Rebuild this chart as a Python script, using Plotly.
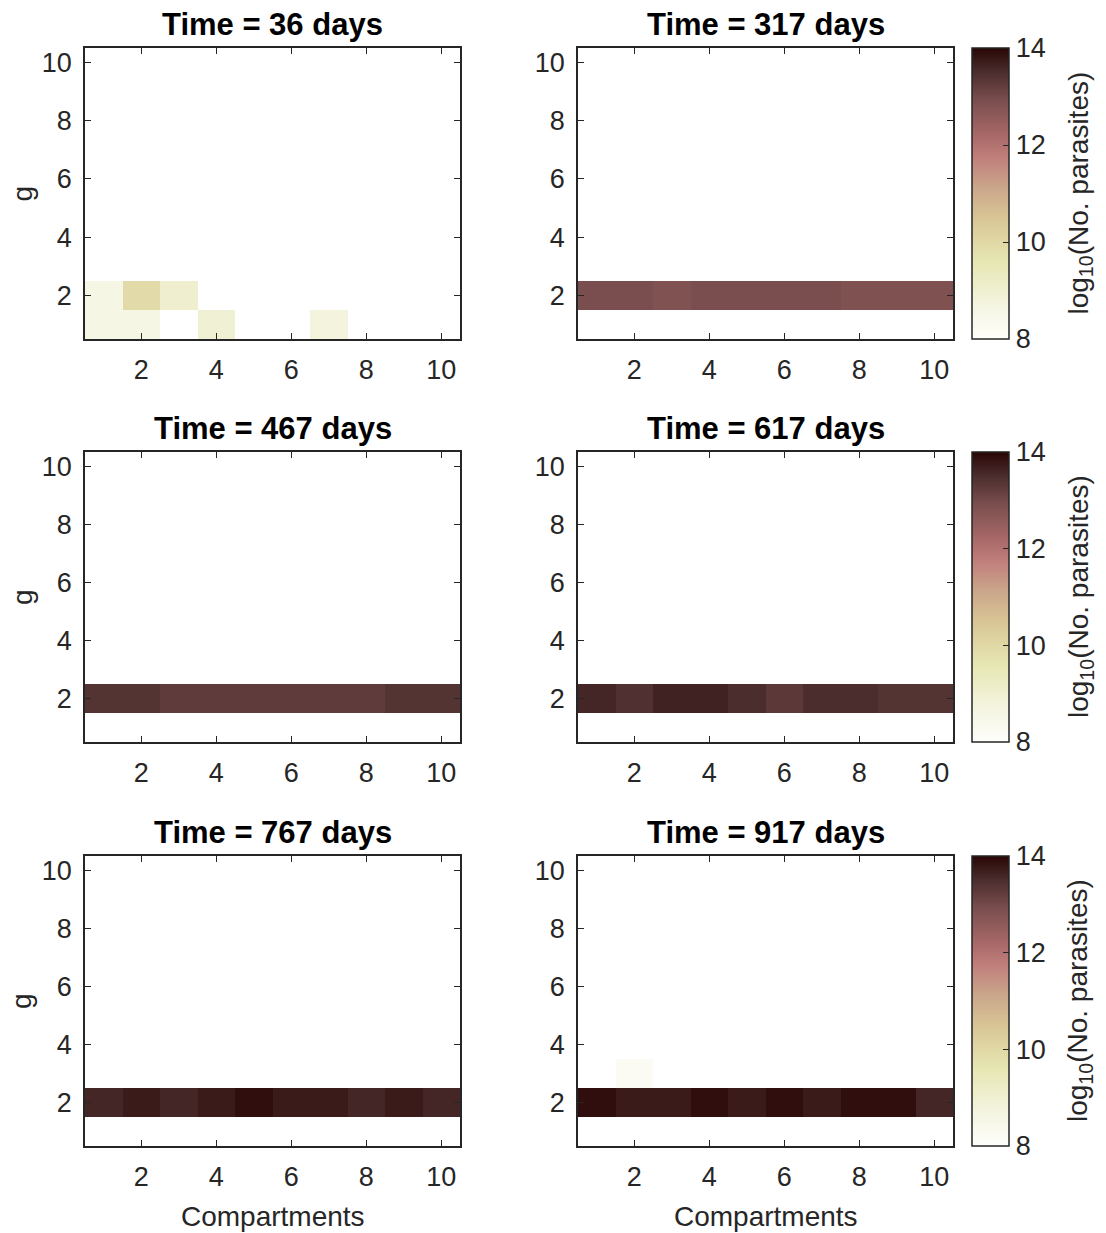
import plotly.graph_objects as go

N = None
# Panel times (days)
times = [36, 317, 467, 617, 767, 917]
compartments = list(range(1, 11))
g_levels = list(range(1, 11))

# log10(No. parasites) per compartment, non-empty g rows only (None = no parasites shown)
t36_g1 = [8.6, 8.6, N, 8.95, N, N, 8.75, N, N, N]
t36_g2 = [8.6, 9.9, 9.05, N, N, N, N, N, N, N]
t317_g2 = [12.92, 12.92, 12.82, 12.92, 12.92, 12.92, 12.92, 12.84, 12.84, 12.84]
t467_g2 = [13.4, 13.4, 13.25, 13.25, 13.25, 13.25, 13.25, 13.25, 13.4, 13.4]
t617_g2 = [13.6, 13.45, 13.65, 13.65, 13.5, 13.3, 13.5, 13.5, 13.4, 13.4]
t767_g2 = [13.6, 13.75, 13.6, 13.75, 13.9, 13.75, 13.75, 13.6, 13.75, 13.6]
t917_g2 = [13.9, 13.75, 13.75, 13.9, 13.75, 13.9, 13.75, 13.9, 13.9, 13.6]
t917_g3 = [N, 8.2, N, N, N, N, N, N, N, N]

panel_rows = [
    {1: t36_g1, 2: t36_g2},
    {2: t317_g2},
    {2: t467_g2},
    {2: t617_g2},
    {2: t767_g2},
    {2: t917_g2, 3: t917_g3},
]

cbar_ticks = [8, 10, 12, 14]
cbar_title = "log<sub>10</sub>(No. parasites)"
x_title = "Compartments"
y_title = "g"

colorscale = [
    [0.0, "#fefefb"],
    [0.12, "#f4f4e0"],
    [0.27, "#e6e6b2"],
    [0.42, "#d8c494"],
    [0.52, "#caa68a"],
    [0.62, "#c1807c"],
    [0.70, "#a86868"],
    [0.82, "#7a4e4e"],
    [0.92, "#4a2c2c"],
    [1.0, "#2a0606"],
]

OFF = 8  # page body margin
W, H = 1106 - 2 * OFF, 1233 - OFF
col_x = [(85 - OFF, 460 - OFF), (578 - OFF, 953 - OFF)]
row_y = [(48 - OFF, 339 - OFF), (452 - OFF, 742 - OFF), (856 - OFF, 1146 - OFF)]
cbar_left = 972 - OFF
cbar_title_x = 1080 - OFF
g_title_x = 22 - OFF
comp_title_y = 1216 - OFF
FONT = "Arial"
TXT = "#262626"
TICK = 27
LAB = 28

fig = go.Figure()
layout = dict(
    width=W, height=H, margin=dict(l=0, r=0, t=0, b=0, autoexpand=False),
    paper_bgcolor="white", plot_bgcolor="white",
    font=dict(family=FONT, color=TXT, size=LAB),
    showlegend=False,
)
annotations = []
for i, t in enumerate(times):
    r, c = divmod(i, 2)
    k = i + 1
    xa = "x" if k == 1 else f"x{k}"
    ya = "y" if k == 1 else f"y{k}"
    z = [[N] * 10 for _ in g_levels]
    for g, vals in panel_rows[i].items():
        z[g - 1] = vals
    ca = "coloraxis" if r == 0 else f"coloraxis{r + 1}"
    fig.add_trace(go.Heatmap(x=compartments, y=g_levels, z=z, coloraxis=ca,
                             xaxis=xa, yaxis=ya, xgap=0, ygap=0, hoverongaps=False))
    x0, x1 = col_x[c]
    y0, y1 = row_y[r]
    axcommon = dict(range=[0.5, 10.5], tickvals=[2, 4, 6, 8, 10], ticks="inside",
                    ticklen=6, tickcolor=TXT, showline=True, linecolor=TXT, linewidth=1.5,
                    mirror="ticks", showgrid=False, zeroline=False, automargin=False,
                    ticklabelstandoff=6,
                    tickfont=dict(size=TICK, color=TXT, family=FONT))
    layout["xaxis" if k == 1 else f"xaxis{k}"] = dict(
        axcommon, domain=[x0 / W, x1 / W], anchor=ya)
    layout["yaxis" if k == 1 else f"yaxis{k}"] = dict(
        axcommon, domain=[1 - y1 / H, 1 - y0 / H], anchor=xa)
    annotations.append(dict(text=f"<b>Time = {t} days</b>", x=(x0 + x1) / 2 / W,
                            y=1 - (y0 - 4) / H, xref="paper", yref="paper",
                            xanchor="center", yanchor="bottom", showarrow=False,
                            font=dict(size=31, color="black", family=FONT)))
    if c == 0:
        annotations.append(dict(text=y_title, x=g_title_x / W, y=1 - (y0 + y1) / 2 / H,
                                xref="paper", yref="paper", xanchor="center",
                                yanchor="middle", textangle=-90, showarrow=False,
                                font=dict(size=LAB, color=TXT, family=FONT)))
    if r == 2:
        annotations.append(dict(text=x_title, x=(x0 + x1) / 2 / W, y=1 - comp_title_y / H,
                                xref="paper", yref="paper", xanchor="center",
                                yanchor="middle", showarrow=False,
                                font=dict(size=LAB, color=TXT, family=FONT)))
    if c == 1:
        layout[ca] = dict(
            cmin=8, cmax=14, colorscale=colorscale,
            colorbar=dict(
                x=cbar_left / W, xanchor="left", xpad=0, ypad=0,
                y=1 - (y0 + y1) / 2 / H, yanchor="middle",
                lenmode="pixels", len=y1 - y0, thicknessmode="pixels", thickness=37,
                outlinewidth=1.5, outlinecolor=TXT,
                tickvals=cbar_ticks, ticks="inside", ticklen=6, tickcolor=TXT,
                tickfont=dict(size=TICK, color=TXT, family=FONT),
            ))
        annotations.append(dict(text=cbar_title, x=cbar_title_x / W,
                                y=1 - (y0 + y1) / 2 / H, xref="paper", yref="paper",
                                xanchor="center", yanchor="middle", textangle=-90,
                                showarrow=False,
                                font=dict(size=LAB, color=TXT, family=FONT)))
layout["annotations"] = annotations
fig.update_layout(**layout)
fig.write_html("out.html")
